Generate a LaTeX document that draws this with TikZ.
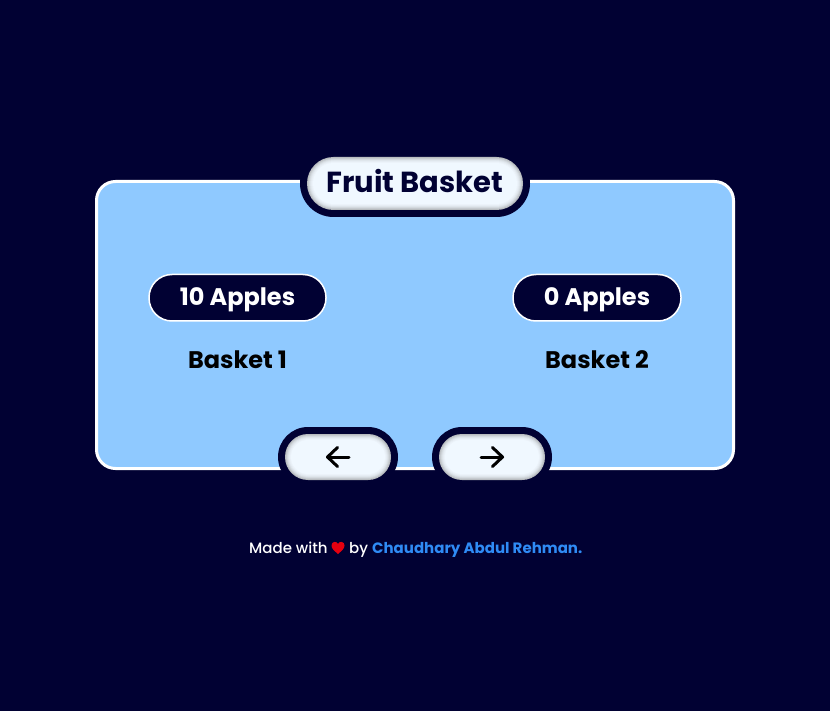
\documentclass[tikz,border=0pt]{standalone}
\usepackage{fontspec}
\setmainfont{Poppins}
\newfontfamily\poppinsmed{Poppins Medium}
\definecolor{pagebg}{HTML}{010133}
\definecolor{cardblue}{HTML}{8FC9FF}
\definecolor{pillface}{HTML}{F0F8FF}
\definecolor{linkblue}{HTML}{2F8BF5}
\definecolor{heartred}{HTML}{E5000F}
\tikzset{
  x=1pt,y=-1pt,
  card/.style={draw=white,line width=3pt,fill=cardblue,rounded corners=19pt},
  halo/.style={fill=pagebg,draw=none},
  counterbox/.style={draw=white,line width=1.5pt,fill=pagebg,rounded corners=23pt},
  countertext/.style={text=white,font=\bfseries\fontsize{24}{24}\selectfont},
  basketlabel/.style={text=black,font=\bfseries\fontsize{24}{24}\selectfont},
  titletext/.style={text=pagebg,font=\bfseries\fontsize{29}{29}\selectfont},
  footer/.style={text=white,font=\poppinsmed\fontsize{15}{15}\selectfont,inner sep=0pt,anchor=base west},
  linktext/.style={text=linkblue,font=\bfseries\fontsize{15}{15}\selectfont,inner sep=0pt,anchor=base west},
  icon/.style={draw=black,line width=3pt,line cap=round,line join=round},
}
% soft raised pill: dark halo, then a face whose rim fades from grey to pale
\newcommand{\softpill}[5]{% name, cx, cy, w, h
  \fill[halo,rounded corners={(#5)/2+7pt}] ({#2-(#4)/2-7},{#3-(#5)/2-7}) rectangle ({#2+(#4)/2+7},{#3+(#5)/2+7});
  \foreach \inset/\shade in {0/50,1/62,2/74,3/84,4/91,5/96,6/100}{
    \fill[pillface!\shade!gray,rounded corners={(#5)/2-\inset*1pt}]
      ({#2-(#4)/2+\inset},{#3-(#5)/2+\inset}) rectangle ({#2+(#4)/2-\inset},{#3+(#5)/2-\inset});
  }
  \coordinate (#1) at (#2,#3);
}
\begin{document}
\begin{tikzpicture}
\useasboundingbox (0,0) rectangle (830,711);
\fill[pagebg] (0,0) rectangle (830,711);
\draw[card] (96.5,181.5) rectangle (733.5,468.5);

\softpill{titlepill}{415}{183.5}{216}{53}
\node[titletext] (title) at (415,181.5) {Fruit Basket};

\draw[counterbox] (149,274.5) rectangle (326,321);
\node[countertext] (count1) at (237.5,300) {10 Apples};
\draw[counterbox] (513,274.5) rectangle (681,321);
\node[countertext] (count2) at (597,300) {0 Apples};

\node[basketlabel] (b1) at (237.5,360) {Basket 1};
\node[basketlabel] (b2) at (597,360) {Basket 2};

\softpill{leftbtn}{338}{457}{106}{46}
\softpill{rightbtn}{492}{457}{106}{46}
\draw[icon] (349,457) -- (327.5,457);
\draw[icon] (337.5,447.5) -- (327.5,457) -- (337.5,466.5);
\draw[icon] (481,457) -- (502.5,457);
\draw[icon] (492.5,447.5) -- (502.5,457) -- (492.5,466.5);

\node[footer] (made) at (249,553) {Made with};
\fill[heartred] (338,554) .. controls (334,550.5) and (331.5,548.5) .. (331.5,545.5)
  .. controls (331.5,541.5) and (336.5,540.5) .. (338,544)
  .. controls (339.5,540.5) and (344.5,541.5) .. (344.5,545.5)
  .. controls (344.5,548.5) and (342,550.5) .. (338,554) -- cycle;
\node[footer] (by) at (349,553) {by};
\node[linktext] (author) at (372,553) {Chaudhary Abdul Rehman.};
\end{tikzpicture}
\end{document}
